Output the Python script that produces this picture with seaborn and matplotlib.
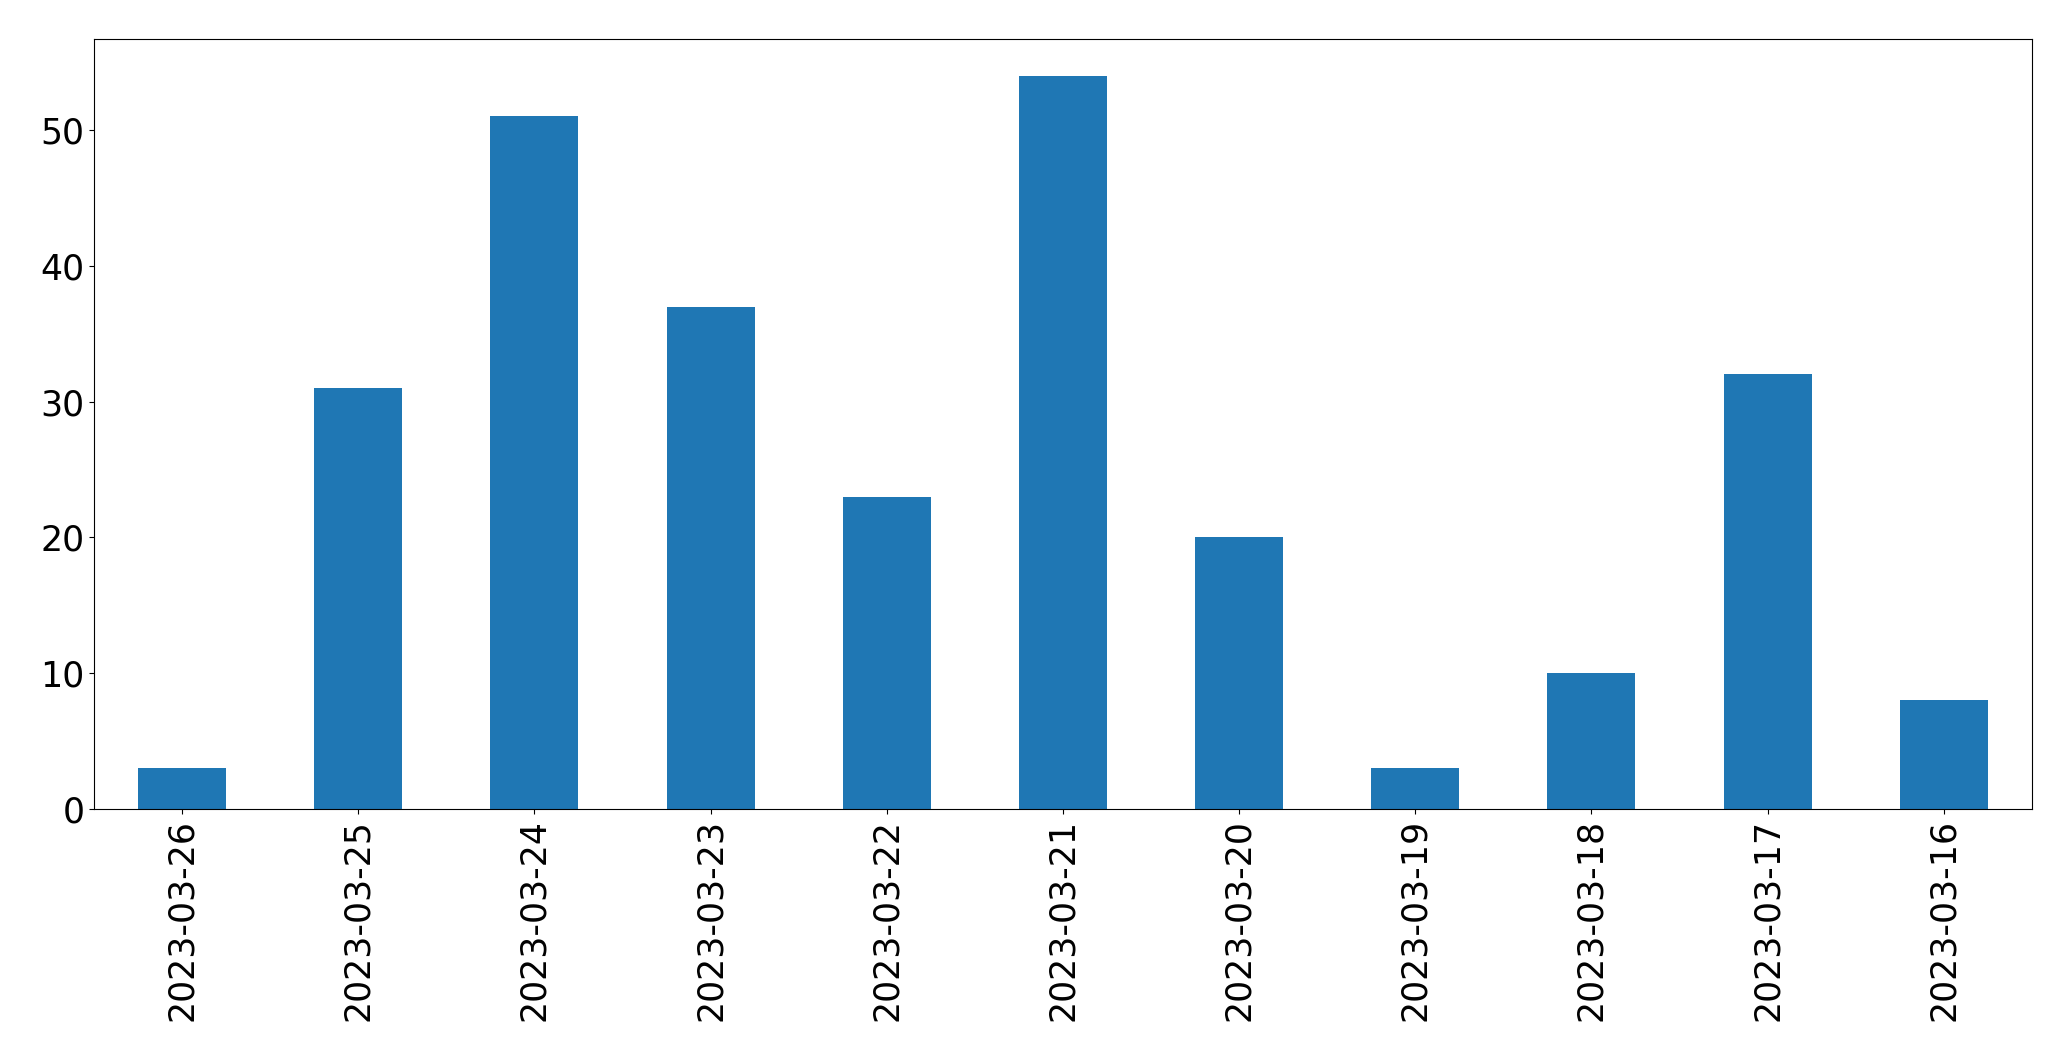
import pandas as pd
import seaborn as sns
import matplotlib
matplotlib.use("Agg")
import matplotlib.pyplot as plt

dates = ['2023-03-26', '2023-03-25', '2023-03-24', '2023-03-23', '2023-03-22', '2023-03-21',
         '2023-03-20', '2023-03-19', '2023-03-18', '2023-03-17', '2023-03-16']
counts = [3, 31, 51, 37, 23, 54, 20, 3, 10, 32, 8]

df = pd.DataFrame({'date': dates, 'count': counts})

fig = plt.figure(figsize=(20.71, 10.61), dpi=100)
ax = fig.add_axes([0.0454, 0.2375, 0.9357, 0.7257])
sns.barplot(data=df, x='date', y='count', color='#1f77b4', saturation=1, width=0.5, ax=ax)

ax.set_xlim(-0.5, len(dates) - 0.5)
ax.set_ylim(0, max(counts) * 1.05)
ax.set_xlabel('')
ax.set_ylabel('')
ax.tick_params(axis='both', labelsize=25)
ax.tick_params(axis='x', labelrotation=90)

fig.savefig('out.png', dpi=100)
